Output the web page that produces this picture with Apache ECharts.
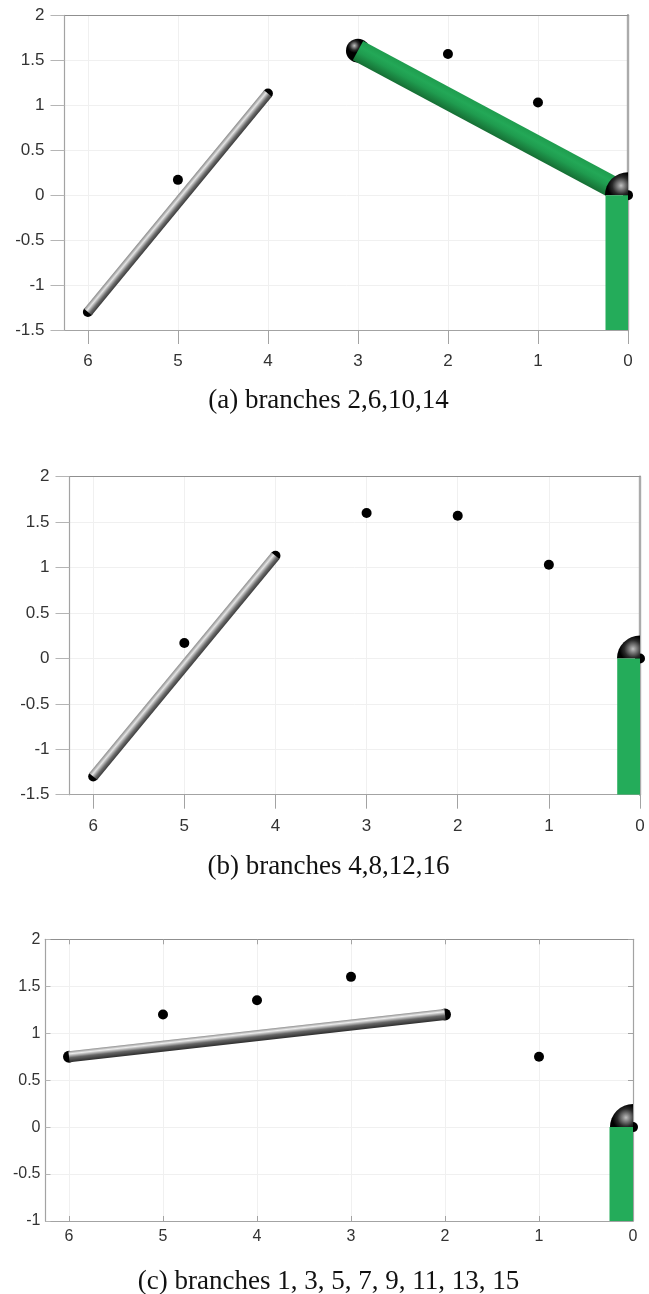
<!DOCTYPE html>
<html><head><meta charset="utf-8">
<style>html,body{margin:0;padding:0;background:#fff}#c{width:649px;height:1294px}</style>
<script src="https://cdn.jsdelivr.net/npm/echarts@6/dist/echarts.min.js"></script>
</head><body><div id="c"></div>
<script>
const xTicks = [0, 1, 2, 3, 4, 5, 6];
const captions = ['(a) branches 2,6,10,14', '(b) branches 4,8,12,16', '(c) branches 1, 3, 5, 7, 9, 11, 13, 15'];
const pointsA = [[0,0],[1,1.03],[2,1.57],[3,1.6],[4,1.13],[5,0.17],[6,-1.3]];
const pointsB = [[0,0],[1,1.03],[2,1.57],[3,1.6],[4,1.13],[5,0.17],[6,-1.3]];
const pointsC = [[0,0],[1,0.75],[2,1.2],[3,1.6],[4,1.35],[5,1.2],[6,0.75]];
const endCapsC = [[2,1.2],[6,0.75]];
const greyLinksA = [[6,-1.3,4,1.13]];
const greyLinksB = [[6,-1.3,4,1.13]];
const greyLinksC = [[6,0.75,2,1.2]];
const greenLinksA = [[3,1.607,0.19,0.1]];
const greenBaseA = [[0.125,0,0.125,-1.5]];
const greenBaseB = [[0.125,0,0.125,-1.5]];
const greenBaseC = [[0.125,0,0.125,-1]];
const jointsA = [[3,1.607,12],[0,0,23]];
const jointsB = [[0,0,23]];
const jointsC = [[0,0,23]];
const xMax = [6.26, 6.26, 6.25];
const yMin = [-1.5, -1.5, -1];

const layout = [
 {left:64.5, top:15.3, width:563.5, height:314.7, tick:14, yMargin:20, xMargin:23, inside:false, right:true, size:17, capY:382, tube:10},
 {left:69.5, top:476.7, width:570.5, height:318, tick:14, yMargin:20, xMargin:23, inside:false, right:true, size:17, capY:848, tube:10.5},
 {left:45.5, top:939.3, width:587.5, height:281.7, tick:5, yMargin:5, xMargin:8, inside:true, right:false, size:16, capY:1263, tube:11}
];
const GREY = '#a3a3a3', TXT = '#333333', SPLIT = '#f0f0f0';

function tubeItem(width, stops){
  return function(params, api){
    const a = api.coord([api.value(0), api.value(1)]);
    const b = api.coord([api.value(2), api.value(3)]);
    let dx = b[0]-a[0], dy = b[1]-a[1];
    const L = Math.hypot(dx,dy) || 1; dx/=L; dy/=L;
    let nx = -dy, ny = dx;
    if (ny > 0 || (ny === 0 && nx > 0)) { nx = -nx; ny = -ny; }
    const h = width/2;
    return {type:'polygon', shape:{points:[
      [a[0]+nx*h,a[1]+ny*h],[b[0]+nx*h,b[1]+ny*h],[b[0]-nx*h,b[1]-ny*h],[a[0]-nx*h,a[1]-ny*h]]},
      style:{fill:{type:'linear',global:true,
        x:a[0]-nx*h,y:a[1]-ny*h,x2:a[0]+nx*h,y2:a[1]+ny*h,colorStops:stops}}};
  };
}
const greyStops = [{offset:0,color:'#3a3a3a'},{offset:.3,color:'#6a6a6a'},{offset:.68,color:'#e4e4e4'},{offset:1,color:'#8a8a8a'}];
const cStops = [{offset:0,color:'#2e2e2e'},{offset:.4,color:'#666'},{offset:.75,color:'#ececec'},{offset:1,color:'#8e8e8e'}];
const greenStops = [{offset:0,color:'#166e34'},{offset:.45,color:'#1f9c4f'},{offset:.7,color:'#23a857'},{offset:1,color:'#1f9c4e'}];
const baseStops = [{offset:0,color:'#24ac5a'},{offset:1,color:'#24ac5a'}];

function jointItem(params, api){
  const c = api.coord([api.value(0), api.value(1)]);
  const r = api.value(2);
  const k = r/23;
  const fill = {type:'radial',global:true,x:c[0]-7*k,y:c[1]-9.5*k,r:r*0.95,
      colorStops:[{offset:0,color:'#c0c0c0'},{offset:.14,color:'#8a8a8a'},{offset:.4,color:'#2a2a2a'},{offset:.62,color:'#000'},{offset:1,color:'#000'}]};
  if (api.value(0) === 0) {
    return {type:'sector', shape:{cx:c[0],cy:c[1],r0:0,r:r,startAngle:Math.PI,endAngle:Math.PI*1.5,clockwise:true}, style:{fill:fill}};
  }
  return {type:'circle', shape:{cx:c[0],cy:c[1],r:r}, style:{fill:fill}};
}
function custom(data, render, z){
  return {type:'custom', clip:true, z:z, silent:true, encode:{x:0,y:1}, data:data, renderItem:render, animation:false};
}
function dots(data, size){
  return {type:'scatter', data:data, symbolSize:size, clip:false, z:3,
    itemStyle:{color:'#000',opacity:1}, silent:true, animation:false};
}
const grids=[], xAxes=[], yAxes=[];
layout.forEach((g,i)=>{
  grids.push({left:g.left,top:g.top,width:g.width,height:g.height,show:false});
  xAxes.push({gridIndex:i,type:'value',inverse:true,min:0,max:xMax[i],interval:1,
    axisLine:{show:true,onZero:false,lineStyle:{color:GREY,width:1.2}},
    axisTick:{show:true,inside:g.inside,length:g.tick,customValues:xTicks,lineStyle:{color:GREY}},
    axisLabel:{customValues:xTicks,margin:g.xMargin,fontFamily:'Liberation Sans',fontSize:g.size,color:TXT,formatter:v=>String(v)},
    splitLine:{show:true,lineStyle:{color:SPLIT,width:1}}});
  xAxes.push({gridIndex:i,type:'value',position:'top',inverse:true,min:0,max:xMax[i],interval:1,
    axisLine:{show:true,onZero:false,lineStyle:{color:'#8f8f8f',width:1.2}},
    axisTick:{show:g.inside,inside:true,length:g.tick,customValues:xTicks,lineStyle:{color:GREY}},axisLabel:{show:false},splitLine:{show:false}});
  yAxes.push({gridIndex:i,type:'value',min:yMin[i],max:2,interval:0.5,
    axisLine:{show:true,onZero:false,lineStyle:{color:GREY,width:1.2}},
    axisTick:{show:true,inside:g.inside,length:g.tick,lineStyle:{color:'#b5b5b5'}},
    axisLabel:{margin:g.yMargin,fontFamily:'Liberation Sans',fontSize:g.size,color:TXT,formatter:v=>String(v)},
    splitLine:{show:true,lineStyle:{color:SPLIT,width:1}}});
  yAxes.push({gridIndex:i,type:'value',position:'right',min:yMin[i],max:2,interval:0.5,
    axisLine:{show:true,onZero:false,lineStyle:{color:g.right?'#ababab':GREY,width:g.right?2.4:1.2}},
    axisTick:{show:g.inside,inside:true,length:g.tick,lineStyle:{color:GREY}},axisLabel:{show:false},splitLine:{show:false}});
});
const series=[];
function add(panel, points, grey, greenLink, base, joints, caps){
  const idx = panel*2;
  const g = layout[panel];
  const fix = o => { o.xAxisIndex = idx; o.yAxisIndex = idx; series.push(o); };
  fix(dots(points, 10));
  if (caps) fix(dots(caps, 12));
  if (greenLink) fix(custom(joints.slice(0,1), jointItem, 4));
  if (greenLink) fix(custom(greenLink, tubeItem(22, greenStops), 5));
  fix(custom(joints.slice(-1), jointItem, 6));
  fix(custom(base, tubeItem(g.width/xMax[panel]*0.25, baseStops), 7));
  fix(custom(grey, tubeItem(g.tube, panel===2?cStops:greyStops), 8));
}
add(0, pointsA, greyLinksA, greenLinksA, greenBaseA, jointsA);
add(1, pointsB, greyLinksB, null, greenBaseB, jointsB);
add(2, pointsC, greyLinksC, null, greenBaseC, jointsC, endCapsC);

const chart = echarts.init(document.getElementById('c'), null, {renderer:'canvas'});
chart.setOption({
  animation:false, backgroundColor:'#fff',
  title: captions.map((t,i)=>({text:t,left:323.5,top:layout[i].capY,textAlign:'center',
    textStyle:{fontFamily:'Liberation Serif',fontWeight:'normal',fontSize:27,color:'#111'}})),
  grid:grids, xAxis:xAxes, yAxis:yAxes, series:series
});
</script></body></html>
